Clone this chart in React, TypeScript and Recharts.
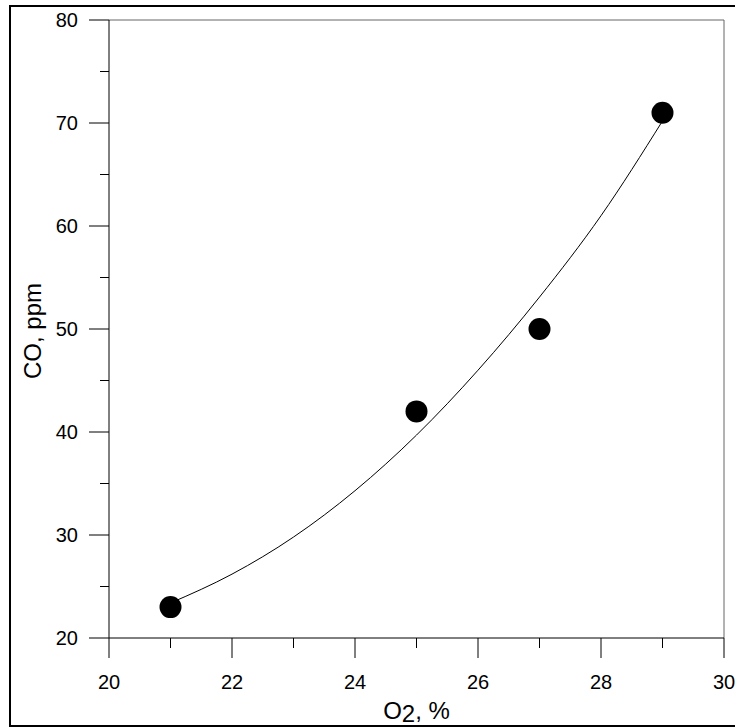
import * as React from "react";
import {
  ComposedChart,
  Line,
  Scatter,
  XAxis,
  YAxis,
  ReferenceLine,
} from "recharts";

// measured points
const o2Measured = [21, 25, 27, 29];
const coMeasured = [23, 42, 50, 71];

// fitted trend line
const o2Fit = [21, 22, 23, 24, 25, 26, 27, 28, 29];
const coFit = [23.4, 26.2, 29.8, 34.3, 39.7, 46.0, 53.1, 61.0, 70.2];

const xTicks = [20, 21, 22, 23, 24, 25, 26, 27, 28, 29, 30];
const yTicks = [20, 25, 30, 35, 40, 45, 50, 55, 60, 65, 70, 75, 80];

const FONT = "'Liberation Sans', Arial, Helvetica, sans-serif";

const points = o2Measured.map((x, i) => ({ x, y: coMeasured[i] }));
const fit = o2Fit.map((x, i) => ({ x, y: coFit[i] }));

const XTick = (props: any) => {
  const { x = 0, y = 0, payload } = props;
  const major = payload.value % 2 === 0;
  return (
    <g>
      <line x1={x} x2={x} y1={y} y2={y + (major ? 20 : 10)} stroke="#000" />
      {major && (
        <text
          x={x}
          y={y + 51}
          textAnchor="middle"
          fontSize={20}
          fontFamily={FONT}
          fill="#000"
        >
          {payload.value}
        </text>
      )}
    </g>
  );
};

const YTick = (props: any) => {
  const { x = 0, y = 0, payload } = props;
  const major = payload.value % 10 === 0;
  return (
    <g>
      <line x1={x - (major ? 20 : 9)} x2={x} y1={y} y2={y} stroke="#000" />
      {major && (
        <text
          x={x - 31}
          y={y + 7}
          textAnchor="end"
          fontSize={20}
          fontFamily={FONT}
          fill="#000"
        >
          {payload.value}
        </text>
      )}
    </g>
  );
};

const Dot = (props: any) => (
  <circle cx={props.cx} cy={props.cy} r={11} fill="#000" />
);

export default function App() {
  return (
    <div
      style={{
        position: "absolute",
        left: 0,
        top: 0,
        width: 735,
        height: 728,
        overflow: "hidden",
        background: "#fff",
      }}
    >
      {/* outer frame, right edge runs off the picture */}
      <div
        style={{
          position: "absolute",
          left: 9,
          top: 5,
          width: 740,
          height: 718,
          borderLeft: "2px solid #000",
          borderTop: "2px solid #000",
          borderBottom: "2px solid #000",
        }}
      />
      <div style={{ position: "absolute", left: 0, top: 0 }}>
        <ComposedChart
          width={735}
          height={728}
          margin={{ top: 20, right: 11, bottom: 0, left: 0 }}
        >
          <XAxis
            type="number"
            dataKey="x"
            domain={[20, 30]}
            ticks={xTicks}
            interval={0}
            allowDataOverflow
            height={90}
            tickSize={0}
            tickMargin={0}
            tickLine={false}
            axisLine={{ stroke: "#000" }}
            tick={<XTick />}
            label={{
              content: (p: any) => {
                const vb = p.viewBox || { x: 109, y: 638, width: 615 };
                return (
                  <text
                    x={vb.x + vb.width / 2}
                    y={vb.y + 81}
                    textAnchor="middle"
                    fontSize={24}
                    fontFamily={FONT}
                    fill="#000"
                  >
                    O<tspan dy={3}>2</tspan>
                    <tspan dy={-3}>, %</tspan>
                  </text>
                );
              },
            }}
          />
          <YAxis
            type="number"
            dataKey="y"
            domain={[20, 80]}
            ticks={yTicks}
            interval={0}
            allowDataOverflow
            width={109}
            tickSize={0}
            tickMargin={0}
            tickLine={false}
            axisLine={{ stroke: "#000" }}
            tick={<YTick />}
            label={{
              content: () => (
                <text
                  x={41}
                  y={331}
                  transform="rotate(-90 41 331)"
                  textAnchor="middle"
                  fontSize={24}
                  fontFamily={FONT}
                  fill="#000"
                >
                  CO, ppm
                </text>
              ),
            }}
          />
          <ReferenceLine y={80} stroke="#666" ifOverflow="extendDomain" />
          <ReferenceLine x={30} stroke="#666" ifOverflow="extendDomain" />
          <Line
            data={fit}
            dataKey="y"
            type="monotone"
            stroke="#000"
            strokeWidth={1}
            dot={false}
            activeDot={false}
            isAnimationActive={false}
          />
          <Scatter
            data={points}
            dataKey="y"
            fill="#000"
            shape={<Dot />}
            isAnimationActive={false}
          />
        </ComposedChart>
      </div>
    </div>
  );
}
